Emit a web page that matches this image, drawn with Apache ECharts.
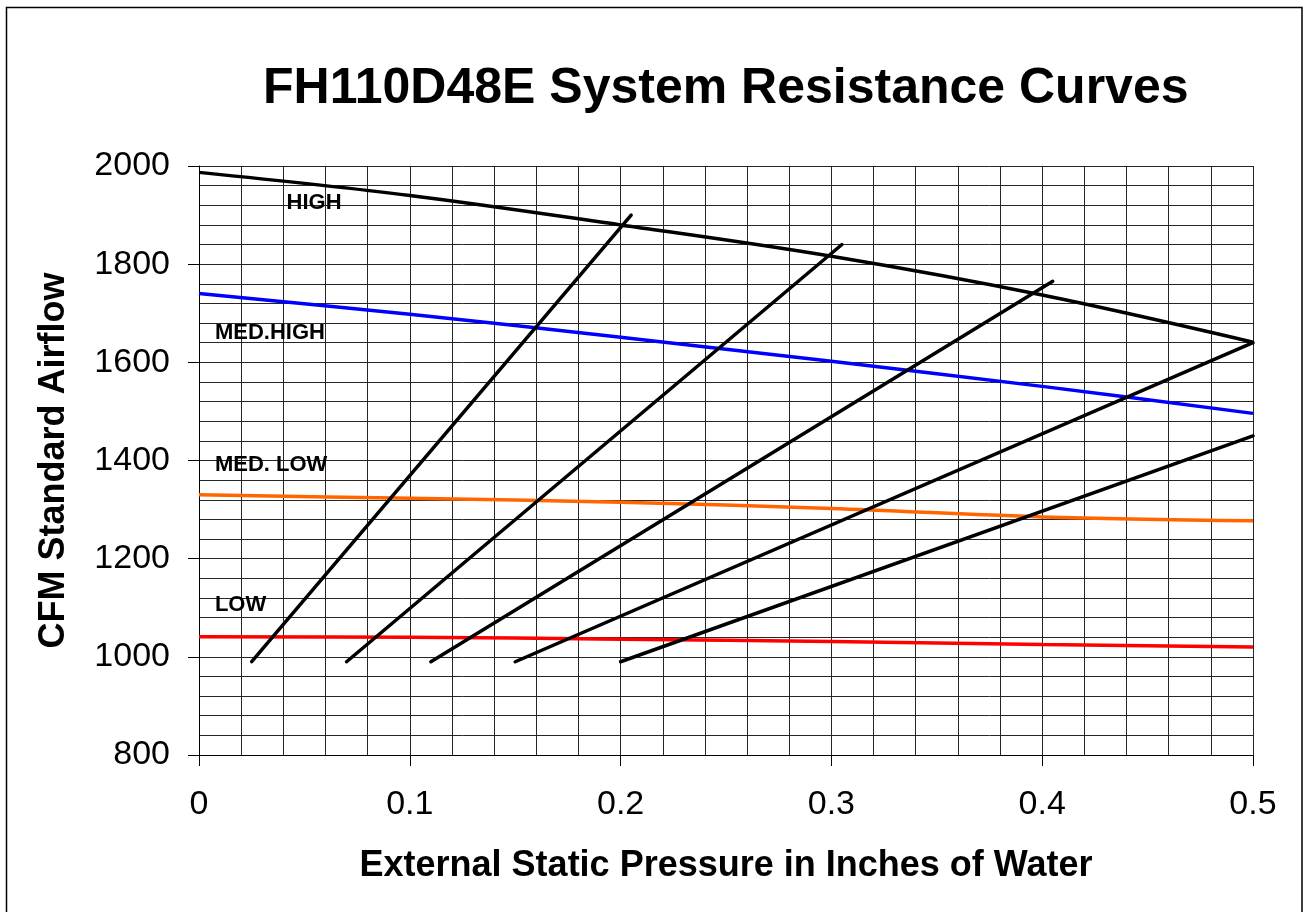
<!DOCTYPE html>
<html>
<head>
<meta charset="utf-8">
<script src="https://cdn.jsdelivr.net/npm/echarts@6/dist/echarts.min.js"></script>
<style>
html,body{margin:0;padding:0;background:#fff;}
#chart{width:1307px;height:912px;}
</style>
</head>
<body>
<div id="chart"></div>
<script>
// ---- data ----
const pressure = [0, 0.1, 0.2, 0.3, 0.4, 0.5];
const high     = [1987, 1940, 1880, 1816, 1737, 1641];
const medHigh  = [1740, 1698, 1651, 1602, 1551, 1496];
const medLow   = [1330, 1323, 1315, 1302, 1285, 1277];
const low      = [1041, 1040, 1036, 1031, 1025, 1020];

// system resistance lines: start and end points
const sysStartX = [0.025, 0.07, 0.11, 0.15, 0.2];
const sysStartY = [990, 990, 990, 990, 990];
const sysEndX   = [0.205, 0.305, 0.405, 0.5, 0.5];
const sysEndY   = [1900, 1840, 1765, 1640, 1450];

// curve name labels (anchor in data coordinates)
const labelNames = ['HIGH', 'MED.HIGH', 'MED. LOW', 'LOW'];
const labelX     = [0.0413, 0.0073, 0.0073, 0.0073];
const labelY     = [1924, 1660, 1391, 1106];

const xTicks = [0, 0.1, 0.2, 0.3, 0.4, 0.5];
const yTicks = [800, 1000, 1200, 1400, 1600, 1800, 2000];

const FONT = '"Liberation Sans", Arial, sans-serif';
const GRID_COLOR = '#262626';

function zip(xs, ys) { return xs.map((x, i) => [x, ys[i]]); }

const fanColors = ['#000000', '#0000ff', '#ff6600', '#ff0000'];
const fanData = [high, medHigh, medLow, low];
const fanNames = ['HIGH', 'MED.HIGH', 'MED. LOW', 'LOW'];

const series = [];
fanData.forEach((d, i) => {
  series.push({
    name: fanNames[i], type: 'line', data: zip(pressure, d),
    smooth: 0.35, showSymbol: false, symbol: 'none',
    lineStyle: { color: fanColors[i], width: 3.5 },
    z: 3, animation: false, silent: true
  });
});
sysStartX.forEach((sx, i) => {
  series.push({
    name: 'sys' + i, type: 'line',
    data: [[sx, sysStartY[i]], [sysEndX[i], sysEndY[i]]],
    showSymbol: false, symbol: 'none',
    lineStyle: { color: '#000', width: 3.5, cap: 'round' },
    z: 4, animation: false, silent: true
  });
});
series.push({
  name: 'labels', type: 'scatter', symbolSize: 1,
  itemStyle: { color: 'rgba(0,0,0,0)' },
  data: labelNames.map((n, i) => ({ value: [labelX[i], labelY[i]], name: n })),
  label: {
    show: true, position: 'right', distance: 0, align: 'left', verticalAlign: 'middle',
    formatter: p => p.name, color: '#000', opacity: 1, textBorderWidth: 0,
    fontFamily: FONT, fontWeight: 'bold', fontSize: 22
  },
  emphasis: { disabled: true },
  z: 5, animation: false, silent: true
});

const chart = echarts.init(document.getElementById('chart'), null, { renderer: 'canvas' });
chart.setOption({
  backgroundColor: '#fff',
  animation: false,
  title: {
    text: 'FH110D48E System Resistance Curves',
    left: 263, top: 64, padding: 0,
    textStyle: { fontFamily: FONT, fontWeight: 'bold', fontSize: 50, color: '#000' }
  },
  graphic: [{
    type: 'rect', shape: { x: 6.5, y: 7.5, width: 1295.5, height: 930 },
    style: { fill: 'none', stroke: '#000', lineWidth: 1.5 }, silent: true, z: 0
  }],
  grid: { left: 199, right: 54, top: 166, bottom: 157, containLabel: false },
  xAxis: {
    type: 'value', min: 0, max: 0.5, interval: 0.1,
    name: 'External Static Pressure in Inches of Water',
    nameLocation: 'middle', nameGap: 93,
    nameTextStyle: { fontFamily: FONT, fontWeight: 'bold', fontSize: 36, color: '#000' },
    axisLine: { show: true, onZero: false, lineStyle: { color: '#000', width: 1 } },
    axisTick: { show: true, inside: false, length: 11, lineStyle: { color: '#000' } },
    axisLabel: {
      margin: 33, fontFamily: FONT, fontSize: 34, color: '#000',
      formatter: v => xTicks.includes(+v.toFixed(2)) ? String(+v.toFixed(2)) : ''
    },
    splitLine: { show: true, lineStyle: { color: GRID_COLOR, width: 1 } },
    minorTick: { show: false, splitNumber: 5 },
    minorSplitLine: { show: true, lineStyle: { color: GRID_COLOR, width: 1 } }
  },
  yAxis: {
    type: 'value', min: 800, max: 2000, interval: 200,
    name: 'CFM Standard Airflow',
    nameLocation: 'middle', nameGap: 127, nameRotate: 90,
    nameTextStyle: { fontFamily: FONT, fontWeight: 'bold', fontSize: 36, color: '#000' },
    axisLine: { show: true, lineStyle: { color: '#000', width: 1 } },
    axisTick: { show: true, inside: false, length: 11, lineStyle: { color: '#000' } },
    axisLabel: {
      margin: 29, fontFamily: FONT, fontSize: 34, color: '#000',
      formatter: v => yTicks.includes(v) ? String(v) : ''
    },
    splitLine: { show: true, lineStyle: { color: GRID_COLOR, width: 1 } },
    minorTick: { show: false, splitNumber: 5 },
    minorSplitLine: { show: true, lineStyle: { color: GRID_COLOR, width: 1 } }
  },
  series: series
});
</script>
</body>
</html>
